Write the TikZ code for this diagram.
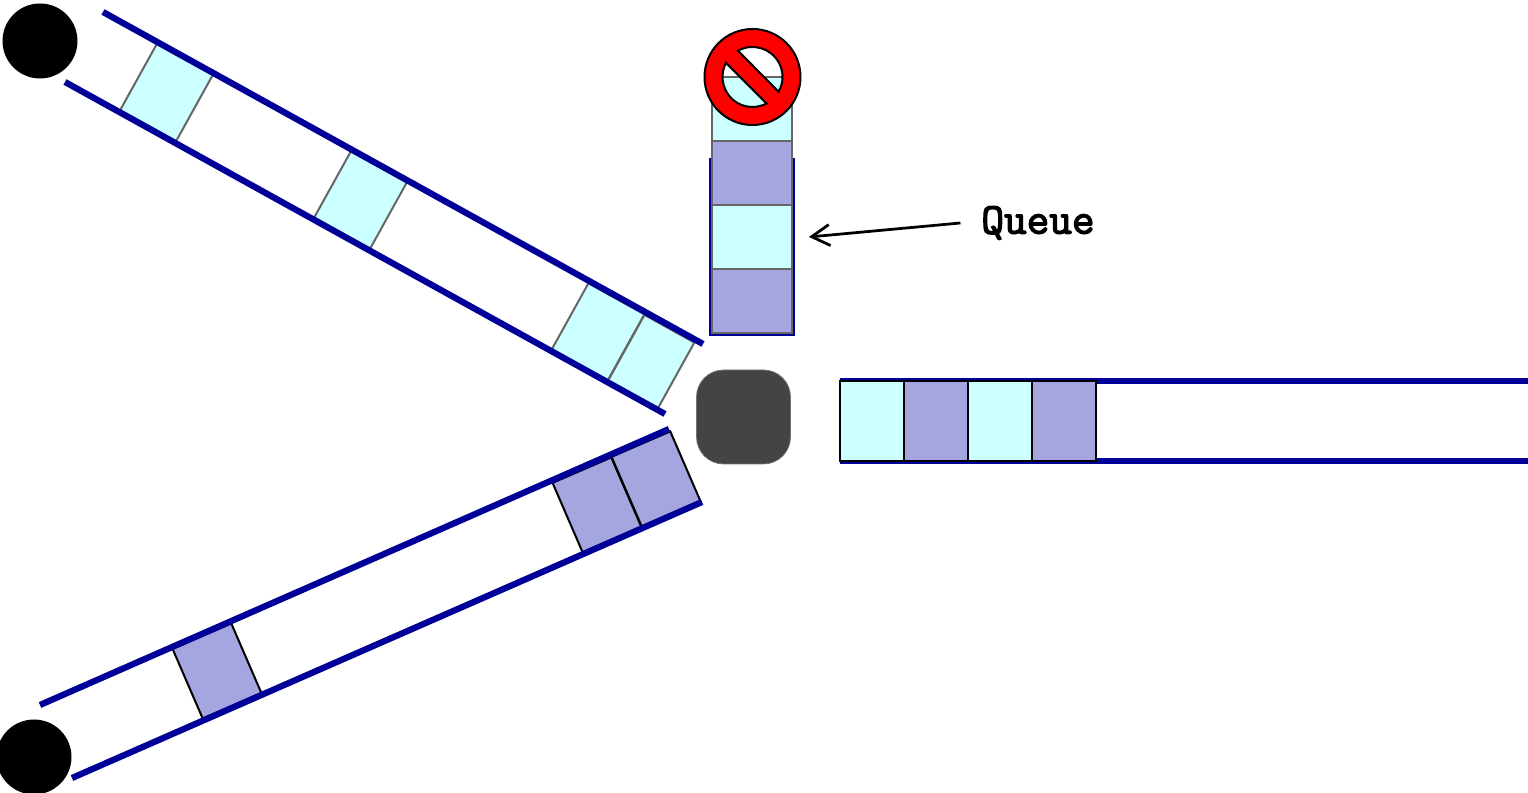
\documentclass[tikz,border=0pt]{standalone}
\usepackage{fontspec}
\usepackage{xcolor}
\usetikzlibrary{arrows.meta, positioning}
\newfontfamily\queuefont[FakeBold=3]{Latin Modern Mono}
\definecolor{linkblue}{HTML}{000099}
\definecolor{pktcyan}{HTML}{CCFFFF}
\definecolor{pktblue}{HTML}{A5A5E0}
\definecolor{routergray}{HTML}{444444}

\begin{document}
\begin{tikzpicture}[
		x=0.02cm, y=0.02cm,
		rail/.style = {draw=linkblue, line width=0.125cm},
		packet/.style = {rectangle, draw, inner sep=0pt, line width=0.04cm,
				minimum width=1.28cm, minimum height=1.52cm},
		cyanpacket/.style = {packet, fill=pktcyan, draw=black!60},
		bluepacket/.style = {packet, fill=pktblue, draw=black},
		source/.style = {circle, fill=black, inner sep=0pt, minimum size=1.5cm},
		router/.style = {rectangle, fill=routergray, draw=black!55, rounded corners=0.54cm,
				inner sep=0pt, minimum size=1.88cm},
		label/.style = {font=\queuefont\fontsize{25}{29}\selectfont, inner sep=0pt, outer xsep=0.42cm},
		pointer/.style = {draw, line width=0.055cm, -{Straight Barb[length=0.36cm, width=0.42cm]}},
	]
	\useasboundingbox (0,0) rectangle (1528,793);

	% Upper input queue
	\node [cyanpacket, rotate=-29] (upperone) at (166.5,700.5) {};
	\node [cyanpacket, rotate=-29] (uppertwo) at (360.5,593) {};
	\node [cyanpacket, rotate=-29] (upperthree) at (598,461) {};
	\node [cyanpacket, rotate=-29, minimum width=1.14cm] (upperfour) at (651,431) {};
	\draw [rail] (103,781) -- (703,449);
	\draw [rail] (65,711) -- (665,379);

	% Lower input queue
	\node [bluepacket, rotate=23.4] (lowerone) at (217,122) {};
	\node [bluepacket, rotate=23.4] (lowertwo) at (597,288) {};
	\node [bluepacket, rotate=23.4] (lowerthree) at (656,314) {};
	\draw [rail] (40,88) -- (669,364);
	\draw [rail] (72,15) -- (702,291);

	% Blocked queue
	\draw [rail, line width=0.09cm] (711.5,635) -- (711.5,459.5) -- (793,459.5) -- (793,635);
	\node [cyanpacket, minimum width=1.6cm, minimum height=1.28cm] (blockedone) at (752,684) {};
	\node [bluepacket, draw=black!60, minimum width=1.6cm, minimum height=1.28cm] (blockedtwo) at (752,620) {};
	\node [cyanpacket, minimum width=1.6cm, minimum height=1.28cm] (blockedthree) at (752,556) {};
	\node [bluepacket, draw=black!60, minimum width=1.6cm, minimum height=1.28cm] (blockedfour) at (752,492) {};

	% Output queue
	\draw [rail] (840,412) -- (1528,412);
	\draw [rail] (840,332) -- (1528,332);
	\node [cyanpacket, draw=black, minimum height=1.6cm] (outone) at (872,372) {};
	\node [bluepacket, minimum height=1.6cm] (outtwo) at (936,372) {};
	\node [cyanpacket, draw=black, minimum height=1.6cm] (outthree) at (1000,372) {};
	\node [bluepacket, minimum height=1.6cm] (outfour) at (1064,372) {};

	% Hosts and router
	\node [source] (hostup) at (40,752) {};
	\node [source] (hostdown) at (34,36) {};
	\node [router] (switch) at (743.5,376) {};

	% Stop sign
	\begin{scope}[shift={(752.5,716)}]
		\draw [fill=red, even odd rule, line width=0.04cm]
			(0,0) circle (48)
			(119:30) arc [start angle=119, end angle=-29.5, radius=30] -- cycle
			(152:30) arc [start angle=152, end angle=298, radius=30] -- cycle;
	\end{scope}

	% Label and pointer
	\node [label] (queuelabel) at (1038,570) {Queue};
	\coordinate (queuetip) at (809,556);
	\path [pointer] (queuelabel.west) -- (queuetip);
\end{tikzpicture}
\end{document}
